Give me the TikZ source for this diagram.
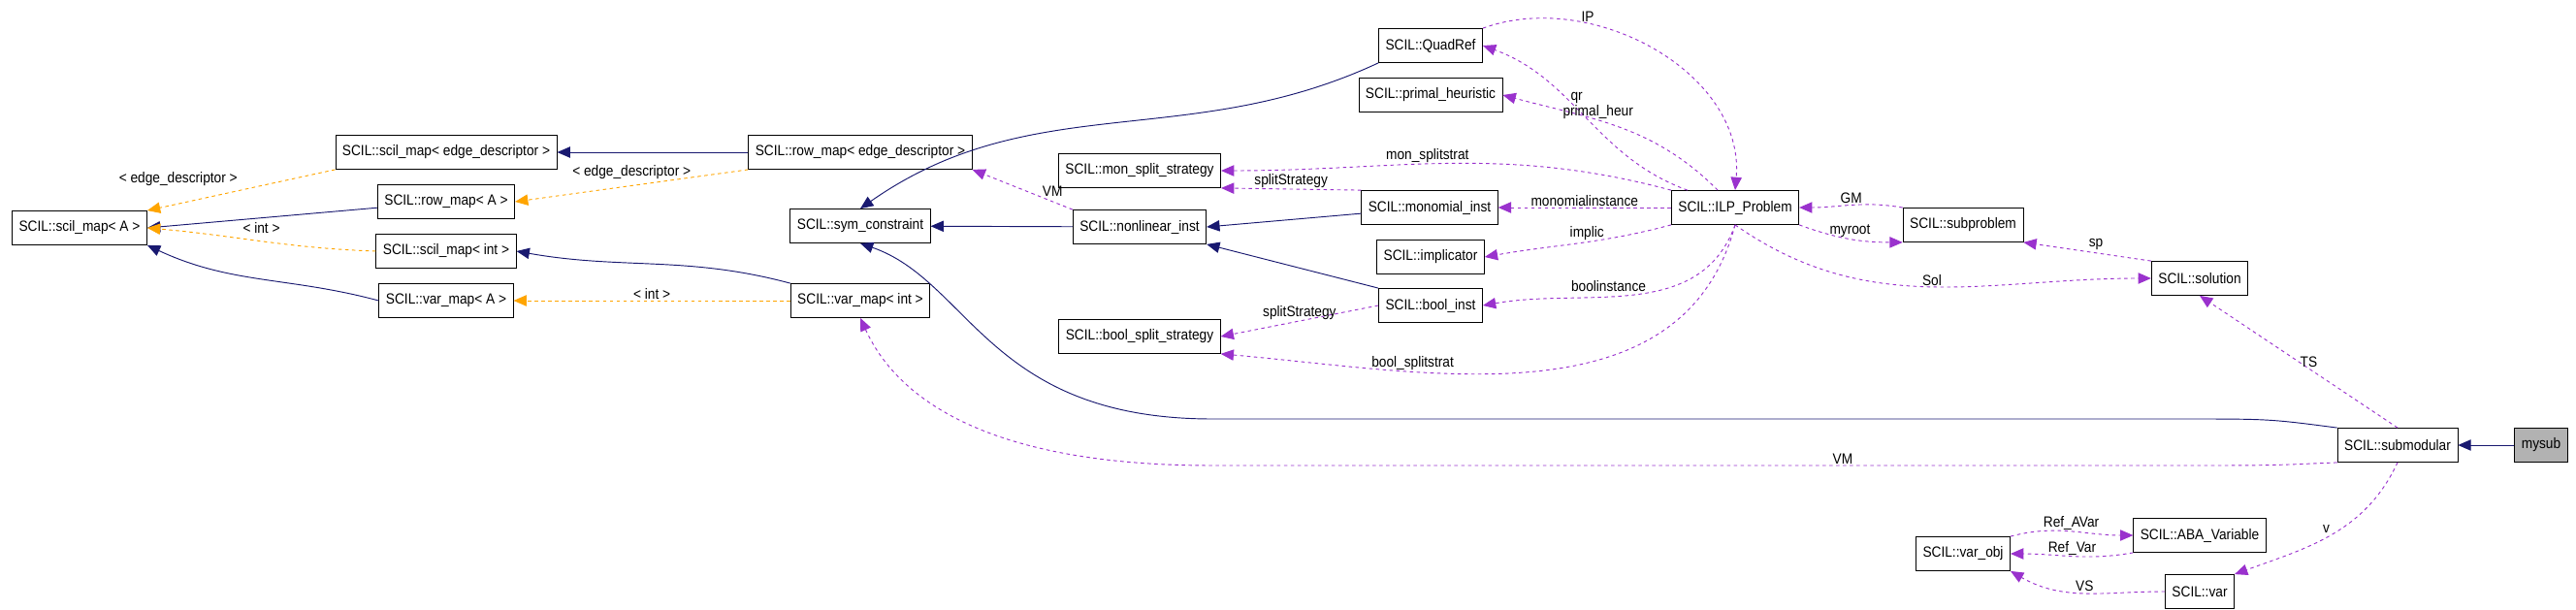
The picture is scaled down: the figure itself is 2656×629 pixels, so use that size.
\documentclass[tikz,border=0pt]{standalone}
\usepackage{fontspec}
\setmainfont{Liberation Sans}[FakeStretch=0.9]
\usetikzlibrary{arrows.meta}
\definecolor{navyblue}{RGB}{25,25,112}
\definecolor{orangeline}{RGB}{255,165,0}
\definecolor{purpleline}{RGB}{154,50,205}
\begin{document}
\begin{tikzpicture}[x=0.3mm,y=-0.3mm,
    font=\fontsize{13}{14}\selectfont,
    cls/.style={draw=black,line width=0.7pt,fill=white,minimum height=1.05cm,inner xsep=6pt},
    inh/.style={navyblue,line width=0.8pt,-{Triangle[length=4mm,width=3.4mm]}},
    tmpl/.style={orangeline,dashed,line width=0.8pt,-{Triangle[length=4mm,width=3.4mm]}},
    use/.style={purpleline,dashed,line width=0.8pt,-{Triangle[length=4mm,width=3.4mm]}},
    lbl/.style={inner sep=1pt,text=black}]

        \useasboundingbox (0,0) rectangle (2656,629);

        % classes
        \node (scilA)    [cls] at (82,235)   {SCIL::scil\_map< A >};
        \node (scilED)   [cls] at (460,157)  {SCIL::scil\_map< edge\_descriptor >};
        \node (rowA)     [cls] at (460,208)  {SCIL::row\_map< A >};
        \node (scilInt)  [cls] at (460,259)  {SCIL::scil\_map< int >};
        \node (varA)     [cls] at (460,310)  {SCIL::var\_map< A >};
        \node (rowED)    [cls] at (887,157)  {SCIL::row\_map< edge\_descriptor >};
        \node (symcon)   [cls] at (887,233)  {SCIL::sym\_constraint};
        \node (varInt)   [cls] at (887,310)  {SCIL::var\_map< int >};
        \node (quadref)  [cls] at (1475,47)  {SCIL::QuadRef};
        \node (primal)   [cls] at (1475,98)  {SCIL::primal\_heuristic};
        \node (monsplit) [cls] at (1175,176) {SCIL::mon\_split\_strategy};
        \node (nonlin)   [cls] at (1175,234) {SCIL::nonlinear\_inst};
        \node (monom)    [cls] at (1474,214) {SCIL::monomial\_inst};
        \node (implic)   [cls] at (1475,265) {SCIL::implicator};
        \node (boolinst) [cls] at (1475,315) {SCIL::bool\_inst};
        \node (boolsplit)[cls] at (1175,347) {SCIL::bool\_split\_strategy};
        \node (ilp)      [cls] at (1789,214) {SCIL::ILP\_Problem};
        \node (subprob)  [cls] at (2024,232) {SCIL::subproblem};
        \node (solution) [cls] at (2268,287) {SCIL::solution};
        \node (submod)   [cls] at (2472,459) {SCIL::submodular};
        \node (mysub)    [cls,fill=black!30] at (2620,459) {mysub};
        \node (abavar)   [cls] at (2268,552) {SCIL::ABA\_Variable};
        \node (varobj)   [cls] at (2024,571) {SCIL::var\_obj};
        \node (var)      [cls] at (2268,610) {SCIL::var};

        % inheritance
        \draw[inh] (rowED) -- (scilED);
        \draw[inh] (rowA) -- (scilA.east);
        \draw[inh] (varA.west) to[out=165,in=-25] (scilA.south east);
        \draw[inh] (varInt.north west) to[out=165,in=-10] (scilInt.east);
        \draw[inh] (quadref.south west) to[out=205,in=35] (symcon.north);
        \draw[inh] (nonlin) -- (symcon);
        \draw[inh] (monom) -- (nonlin.east);
        \draw[inh] (boolinst.north west) -- (nonlin.south east);
        \draw[inh] (mysub) -- (submod);
        \draw[inh] (submod.north west) .. controls (2340,432) .. (2250,432) -- (1250,432)
                   .. controls (1020,432) and (1000,290) .. (symcon.south);

        % template instances
        \draw[tmpl] (scilED.south west) -- node[lbl,above left=2pt] {< edge\_descriptor >} (scilA.north east);
        \draw[tmpl] (rowED.south west) -- node[lbl,above=4pt] {< edge\_descriptor >} (rowA.east);
        \draw[tmpl] (scilInt.west) to[out=178,in=-5] node[lbl,above=6pt] {< int >} (scilA.east);
        \draw[tmpl] (varInt) -- node[lbl,above] {< int >} (varA);

        % usage
        \draw[use] (nonlin.north west) -- node[lbl,above=3pt,pos=0.2] {VM} (rowED.south east);
        \draw[use] (ilp) to[out=160,in=-20] node[lbl,above=4pt,pos=0.55] {qr} (quadref.east);
        \draw[use] (quadref.north east) to[out=20,in=85] node[lbl,above,pos=0.3] {IP} (ilp.north);
        \draw[use] (ilp) to[out=135,in=-15] node[lbl,above,pos=0.6] {primal\_heur} (primal.east);
        \draw[use] (ilp.north west) to[out=165,in=0] node[lbl,above,pos=0.55] {mon\_splitstrat} (monsplit.east);
        \draw[use] (monom.north west) -- node[lbl,above] {splitStrategy} (monsplit.south east);
        \draw[use] (ilp) -- node[lbl,above] {monomialinstance} (monom);
        \draw[use] (ilp.south west) to[out=195,in=10] node[lbl,above,pos=0.45] {implic} (implic.east);
        \draw[use] (ilp.south) to[out=250,in=10] node[lbl,above left,pos=0.45] {boolinstance} (boolinst.east);
        \draw[use] (boolinst.west) -- node[lbl,above] {splitStrategy} (boolsplit.east);
        \draw[use] (ilp.south) to[out=255,in=-5] node[lbl,above,pos=0.7] {bool\_splitstrat} (boolsplit.south east);
        \draw[use] (subprob.north west) to[out=170,in=0] node[lbl,above] {GM} (ilp.east);
        \draw[use] (ilp.south east) to[out=-20,in=180] node[lbl,above] {myroot} (subprob.south west);
        \draw[use] (ilp.south) to[out=-35,in=180] node[lbl,above,pos=0.5] {Sol} (solution.west);
        \draw[use] (solution.north west) -- node[lbl,above right] {sp} (subprob.south east);
        \draw[use] (submod.north) -- node[lbl,right] {TS} (solution.south);
        \draw[use] (submod.south west) .. controls (2340,480) .. (2250,480)
                   -- node[lbl,above,pos=0.35] {VM} (1250,480)
                   .. controls (1000,480) and (920,400) .. (varInt.south);
        \draw[use] (submod.south) to[out=-115,in=20] node[lbl,above left] {v} (var.north east);
        \draw[use] (varobj.north east) to[out=15,in=180] node[lbl,above] {Ref\_AVar} (abavar.west);
        \draw[use] (abavar.south west) to[out=190,in=0] node[lbl,above] {Ref\_Var} (varobj.east);
        \draw[use] (var.west) to[out=180,in=-30] node[lbl,above] {VS} (varobj.south east);

    \end{tikzpicture}
\end{document}
